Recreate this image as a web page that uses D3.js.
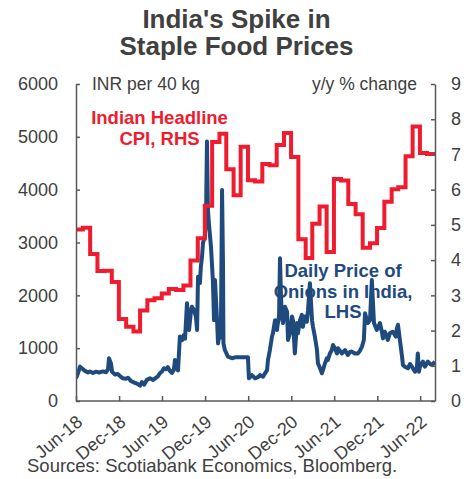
<!DOCTYPE html>
<html><head><meta charset="utf-8">
<script src="https://cdn.jsdelivr.net/npm/d3@7"></script>
<style>
body{margin:0;background:#fff;}
svg{display:block;font-family:"Liberation Sans",Arial,sans-serif;}
</style>
</head><body>
<svg id="c" width="473" height="479"></svg>
<script>
// ---- data ----
const titleLines = ["India's Spike in", "Staple Food Prices"];
const xTickDates = ["2018-06-01","2018-12-01","2019-06-01","2019-12-01","2020-06-01","2020-12-01","2021-06-01","2021-12-01","2022-06-01"];
const leftTicks = [0,1000,2000,3000,4000,5000,6000];
const rightTicks = [0,1,2,3,4,5,6,7,8,9];
const xStart = "2018-06-01", xEnd = "2022-08-03";

// India headline CPI, y/y %, dated at month end (RHS)
const cpiDates = ["2018-05-31","2018-06-30","2018-07-31","2018-08-31","2018-09-30","2018-10-31","2018-11-30","2018-12-31",
"2019-01-31","2019-02-28","2019-03-31","2019-04-30","2019-05-31","2019-06-30","2019-07-31","2019-08-31","2019-09-30","2019-10-31","2019-11-30","2019-12-31",
"2020-01-31","2020-02-29","2020-03-31","2020-04-30","2020-05-31","2020-06-30","2020-07-31","2020-08-31","2020-09-30","2020-10-31","2020-11-30","2020-12-31",
"2021-01-31","2021-02-28","2021-03-31","2021-04-30","2021-05-31","2021-06-30","2021-07-31","2021-08-31","2021-09-30","2021-10-31","2021-11-30","2021-12-31",
"2022-01-31","2022-02-28","2022-03-31","2022-04-30","2022-05-31","2022-06-30"];
const cpiValues = [4.87,4.92,4.17,3.69,3.70,3.38,2.33,2.11,
1.97,2.57,2.86,2.92,3.05,3.18,3.15,3.28,3.99,4.62,5.54,7.35,
7.59,6.58,5.84,7.22,6.27,6.23,6.73,6.69,7.27,7.61,6.93,4.59,
4.06,5.03,5.52,4.23,6.30,6.26,5.59,5.30,4.35,4.48,4.91,5.66,
6.01,6.07,6.95,7.79,7.04,7.01];

// Daily price of onions in India, INR per 40 kg (LHS)
const onionDates = ["2018-06-01","2018-06-09","2018-06-18","2018-07-01","2018-07-09","2018-07-22","2018-07-30","2018-08-12","2018-08-25","2018-09-07",
"2018-09-24","2018-10-06","2018-10-15","2018-10-19","2018-10-28","2018-11-01","2018-11-14","2018-11-26","2018-12-05","2018-12-17",
"2018-12-30","2019-01-08","2019-01-20","2019-02-02","2019-02-15","2019-02-28","2019-03-08","2019-03-17","2019-03-29","2019-04-11",
"2019-04-24","2019-05-07","2019-05-15","2019-05-23","2019-06-01","2019-06-09","2019-06-18","2019-06-26","2019-07-05","2019-07-13",
"2019-07-22","2019-07-26","2019-08-04","2019-08-08","2019-08-16","2019-08-25","2019-09-02","2019-09-07","2019-09-15","2019-09-24",
"2019-10-02","2019-10-06","2019-10-15","2019-10-23","2019-10-28","2019-11-01","2019-11-09","2019-11-13","2019-11-18","2019-11-22",
"2019-11-30","2019-12-05","2019-12-09","2019-12-13","2019-12-17","2019-12-26","2020-01-03","2020-01-08","2020-01-12","2020-01-20",
"2020-01-25","2020-02-02","2020-02-06","2020-02-11","2020-02-15","2020-02-17","2020-02-23","2020-03-07","2020-03-24","2020-04-10",
"2020-04-27","2020-05-14","2020-05-31","2020-06-04","2020-06-17","2020-06-30","2020-07-12","2020-07-21","2020-07-29","2020-08-03",
"2020-08-11","2020-08-20","2020-08-24","2020-09-01","2020-09-10","2020-09-14","2020-09-23","2020-10-01","2020-10-05","2020-10-10",
"2020-10-14","2020-10-18","2020-10-22","2020-10-27","2020-11-04","2020-11-13","2020-11-17","2020-11-25","2020-12-04","2020-12-08",
"2020-12-16","2020-12-25","2020-12-29","2021-01-07","2021-01-15","2021-01-19","2021-01-28","2021-02-05","2021-02-10","2021-02-18",
"2021-02-27","2021-03-03","2021-03-11","2021-03-20","2021-03-24","2021-04-02","2021-04-10","2021-04-14","2021-04-23","2021-05-01",
"2021-05-05","2021-05-14","2021-05-22","2021-05-27","2021-06-04","2021-06-13","2021-06-17","2021-06-25","2021-07-04","2021-07-17",
"2021-07-29","2021-08-07","2021-08-15","2021-08-28","2021-09-10","2021-09-18","2021-09-27","2021-10-05","2021-10-10","2021-10-18",
"2021-10-22","2021-10-31","2021-11-08","2021-11-17","2021-11-29","2021-12-12","2021-12-21","2021-12-25","2022-01-02","2022-01-15",
"2022-01-23","2022-02-05","2022-02-18","2022-02-22","2022-02-27","2022-03-07","2022-03-16","2022-03-20","2022-03-28","2022-04-10",
"2022-04-19","2022-04-27","2022-05-10","2022-05-18","2022-05-22","2022-05-27","2022-05-31","2022-06-13","2022-06-21","2022-07-04",
"2022-07-13","2022-07-21","2022-08-03"];
const onionValues = [430,520,650,600,570,540,560,530,555,540,
560,545,600,810,700,555,500,510,470,430,
420,440,380,350,330,290,360,310,400,430,
400,440,470,525,560,620,600,640,570,530,
600,775,600,580,1220,1150,1250,1180,1850,1345,
1700,1785,1720,1600,1345,2350,2230,2540,2730,2990,
3110,3500,4910,3615,3365,2920,2290,1530,2290,1600,
1090,1345,1200,3995,2610,1090,965,840,810,830,
830,830,830,430,490,430,450,490,470,460,
520,585,775,965,1220,1280,1530,1345,1475,1600,
2700,2000,1600,1475,1785,1690,1155,1280,1600,1530,
900,1475,1280,1530,1630,1405,1600,1500,1720,2230,
1530,1405,1220,965,715,620,525,585,715,810,
775,900,965,1060,1000,900,1000,950,900,965,
870,930,935,900,900,950,1030,1155,1660,1530,
1475,1530,2290,1475,1345,1475,1300,1185,1310,1155,
1280,1310,1220,1375,1440,1155,840,680,650,620,
700,650,555,620,900,555,650,745,650,745,
700,680,745];

// ---- chart ----
const parse = d3.timeParse("%Y-%m-%d");
const W = 473, H = 479;
const plot = {left:76, right:435, top:84, bottom:401};
const RED = "#EE1C2E", BLUE = "#1F4A7D", TXT = "#404040", AX = "#595959";

const svg = d3.select("#c");
svg.append("rect").attr("width",W).attr("height",H).attr("fill","#fff");

const x = d3.scaleTime().domain([parse(xStart), parse(xEnd)]).range([plot.left, plot.right]);
const yL = d3.scaleLinear().domain([0,6000]).range([plot.bottom, plot.top]);
const yR = d3.scaleLinear().domain([0,9]).range([plot.bottom, plot.top]);

// title
svg.append("text").attr("x",236.5).attr("text-anchor","middle")
  .attr("font-size",26).attr("font-weight","bold").attr("fill",TXT)
  .selectAll("tspan").data(titleLines).join("tspan")
  .attr("x",236.5).attr("y",(d,i)=>28+i*27).text(d=>d);

// clip
svg.append("clipPath").attr("id","clip").append("rect")
  .attr("x",plot.left).attr("y",plot.top-10).attr("width",plot.right-plot.left).attr("height",plot.bottom-plot.top+10);

const onion = onionDates.map((d,i)=>({d:parse(d), v:onionValues[i]}));
const cpi = cpiDates.map((d,i)=>({d:parse(d), v:cpiValues[i]}));
cpi.push({d:parse(xEnd), v:cpiValues[cpiValues.length-1]});

const g = svg.append("g").attr("clip-path","url(#clip)");
g.append("path").datum(onion)
  .attr("d", d3.line().x(p=>x(p.d)).y(p=>yL(p.v)))
  .attr("fill","none").attr("stroke",BLUE).attr("stroke-width",4).attr("stroke-linejoin","round");
g.append("path").datum(cpi)
  .attr("d", d3.line().curve(d3.curveStepAfter).x(p=>x(p.d)).y(p=>yR(p.v)))
  .attr("fill","none").attr("stroke",RED).attr("stroke-width",4).attr("stroke-linejoin","miter");

// axes
function styleAxis(sel){
  sel.selectAll("path.domain").attr("stroke",AX).attr("stroke-width",1.5);
  sel.selectAll(".tick line").attr("stroke",AX).attr("stroke-width",1.5);
  sel.selectAll(".tick text").attr("fill",TXT).attr("font-family",'"Liberation Sans",Arial,sans-serif');
}
const gl = svg.append("g").attr("transform",`translate(${plot.left},0)`)
  .call(d3.axisLeft(yL).tickValues(leftTicks).tickFormat(d3.format("d")).tickSize(-4).tickSizeOuter(0).tickPadding(18));
gl.call(styleAxis); gl.selectAll(".tick text").attr("font-size",18);
const gr = svg.append("g").attr("transform",`translate(${plot.right},0)`)
  .call(d3.axisRight(yR).tickValues(rightTicks).tickFormat(d3.format("d")).tickSize(-4).tickSizeOuter(0).tickPadding(16));
gr.call(styleAxis); gr.selectAll(".tick text").attr("font-size",18);
const gb = svg.append("g").attr("transform",`translate(0,${plot.bottom})`)
  .call(d3.axisBottom(x).tickValues(xTickDates.map(parse)).tickSize(-5).tickSizeOuter(0).tickFormat(d3.timeFormat("%b-%y")));
gb.call(styleAxis);
gb.selectAll(".tick text").attr("font-size",18).attr("text-anchor","end")
  .attr("x",0).attr("y",0).attr("dy","0.71em")
  .attr("transform","translate(-1,13) rotate(-40)");
gb.select("path.domain").attr("d",`M${plot.left},0H${plot.right}`);

// axis unit labels
svg.append("text").attr("x",92).attr("y",84).attr("dy","0.35em").attr("font-size",17.5).attr("fill",TXT).text("INR per 40 kg");
svg.append("text").attr("x",417).attr("y",84).attr("dy","0.35em").attr("text-anchor","end").attr("font-size",17.5).attr("fill",TXT).text("y/y % change");

// annotations
const redLbl = ["Indian Headline","CPI, RHS"];
svg.append("text").attr("text-anchor","middle").attr("font-size",18.5).attr("font-weight","bold").attr("fill",RED)
  .selectAll("tspan").data(redLbl).join("tspan").attr("x",159.5).attr("y",(d,i)=>124+i*20.5).text(d=>d);
const blueLbl = ["Daily Price of","Onions in India,","LHS"];
svg.append("text").attr("text-anchor","middle").attr("font-size",18.5).attr("font-weight","bold").attr("fill",BLUE)
  .selectAll("tspan").data(blueLbl).join("tspan").attr("x",343).attr("y",(d,i)=>277+i*20.5).text(d=>d);

// source
svg.append("text").attr("x",27).attr("y",472).attr("font-size",18.5).attr("fill",TXT)
  .text("Sources: Scotiabank Economics, Bloomberg.");
</script>
</body></html>
